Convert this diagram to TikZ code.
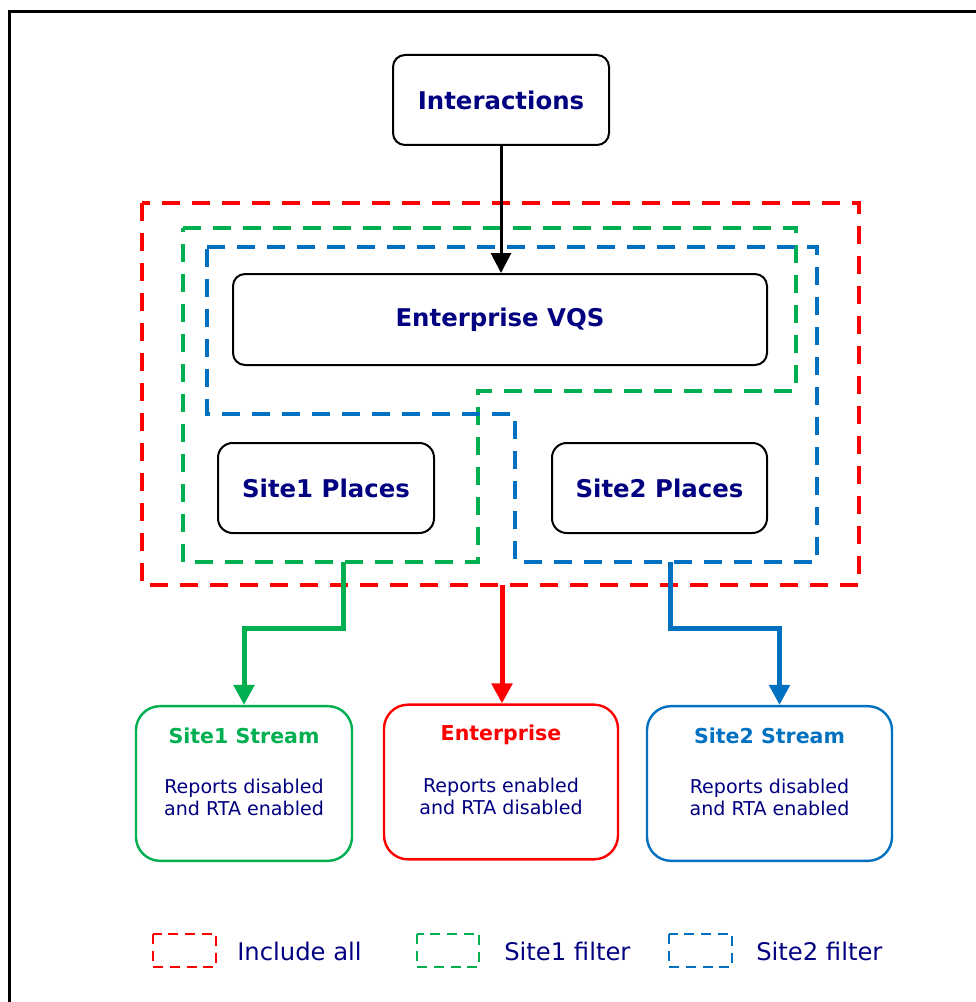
\documentclass[tikz,border=0pt]{standalone}
\usepackage{fontspec}
\setmainfont{DejaVu Sans}
\usetikzlibrary{arrows.meta}
\definecolor{navy}{RGB}{0,0,128}
\definecolor{allred}{RGB}{255,0,0}
\definecolor{sitegreen}{RGB}{0,176,80}
\definecolor{siteblue}{RGB}{0,112,192}
\newcommand\boxfont{\fontsize{18.3pt}{22pt}\selectfont\bfseries}
\newcommand\streamfont{\fontsize{15.4pt}{18pt}\selectfont\bfseries}
\newcommand\bodyfont{\fontsize{14.3pt}{16.5pt}\selectfont}
\newcommand\keyfont{\fontsize{18.2pt}{22pt}\selectfont}
\begin{document}
\begin{tikzpicture}[x=0.75pt,y=-0.75pt,
    box/.style={draw, line width=1.5pt, rounded corners=9pt, fill=white, text=navy, font=\boxfont},
    stream/.style={draw, line width=1.8pt, rounded corners=18pt, minimum height=116pt},
    flow/.style={line width=3.75pt, -{Triangle[width=15pt,length=15pt]}},
    filter/.style={line width=2.6pt, dash pattern=on 13.5pt off 9pt},
    legendbox/.style={line width=2pt, dash pattern=on 7.5pt off 5pt}]
    \useasboundingbox (0,0) rectangle (975,1002);
    \draw[line width=2.25pt] (9,1012) -- (9,11.5) -- (985,11.5);
    \draw[filter, allred] (142,203) rectangle (859,585);
    \draw[filter, sitegreen] (183,228) -- (796,228) -- (796,391) -- (478,391) -- (478,562) -- (183,562) -- cycle;
    \draw[filter, siteblue] (207,247) -- (817,247) -- (817,562) -- (515,562) -- (515,414) -- (207,414) -- cycle;
    \node[box, minimum width=162pt, minimum height=67.5pt] (inter) at (501,100) {Interactions};
    \node[box, minimum width=400.5pt, minimum height=68.25pt] (vqs) at (500,319.5) {Enterprise VQS};
    \node[box, minimum width=162pt, minimum height=67.5pt, rounded corners=11pt] (place1) at (326,488) {Site1 Places};
    \node[box, minimum width=161.25pt, minimum height=67.5pt, rounded corners=11pt] (place2) at (659.5,488) {Site2 Places};
    \node[stream, draw=sitegreen, minimum width=162pt] (s1) at (244,783.5) {};
    \node[stream, draw=allred, minimum width=175.5pt] (ent) at (501,782) {};
    \node[stream, draw=siteblue, minimum width=183.75pt] (s2) at (769.5,783.5) {};
    \node[font=\streamfont, text=sitegreen] (s1title) at (244,736) {Site1 Stream};
    \node[font=\streamfont, text=allred] (enttitle) at (501,735) {Enterprise};
    \node[font=\streamfont, text=siteblue] (s2title) at (769.5,736) {Site2 Stream};
    \node[font=\bodyfont, text=navy, align=center] (s1body) at (244,797) {Reports disabled\\and RTA enabled};
    \node[font=\bodyfont, text=navy, align=center] (entbody) at (501,796) {Reports enabled\\and RTA disabled};
    \node[font=\bodyfont, text=navy, align=center] (s2body) at (769.5,797) {Reports disabled\\and RTA enabled};
    \coordinate (g1) at (343,562);
    \coordinate (r1) at (502,585);
    \coordinate (b1) at (670,562);
    \draw[line width=2.25pt, -{Triangle[width=15pt,length=15pt]}] (inter.south) -- (inter.south |- vqs.north);
    \draw[flow, sitegreen] (g1) -- ++(0,66) -| (s1.north);
    \draw[flow, allred] (r1) -- (r1 |- ent.north);
    \draw[flow, siteblue] (b1) -- ++(0,66) -| ([xshift=7.5pt]s2.north);
    \draw[legendbox, allred] (153,934) rectangle (216,967);
    \draw[legendbox, sitegreen] (417,934) rectangle (479,967);
    \draw[legendbox, siteblue] (669,934) rectangle (732,967);
    \node[font=\keyfont, text=navy, inner sep=0, anchor=west] (key1) at (237,951) {Include all};
    \node[font=\keyfont, text=navy, inner sep=0, anchor=west] (key2) at (504,951) {Site1 filter};
    \node[font=\keyfont, text=navy, inner sep=0, anchor=west] (key3) at (756,951) {Site2 filter};
\end{tikzpicture}
\end{document}
